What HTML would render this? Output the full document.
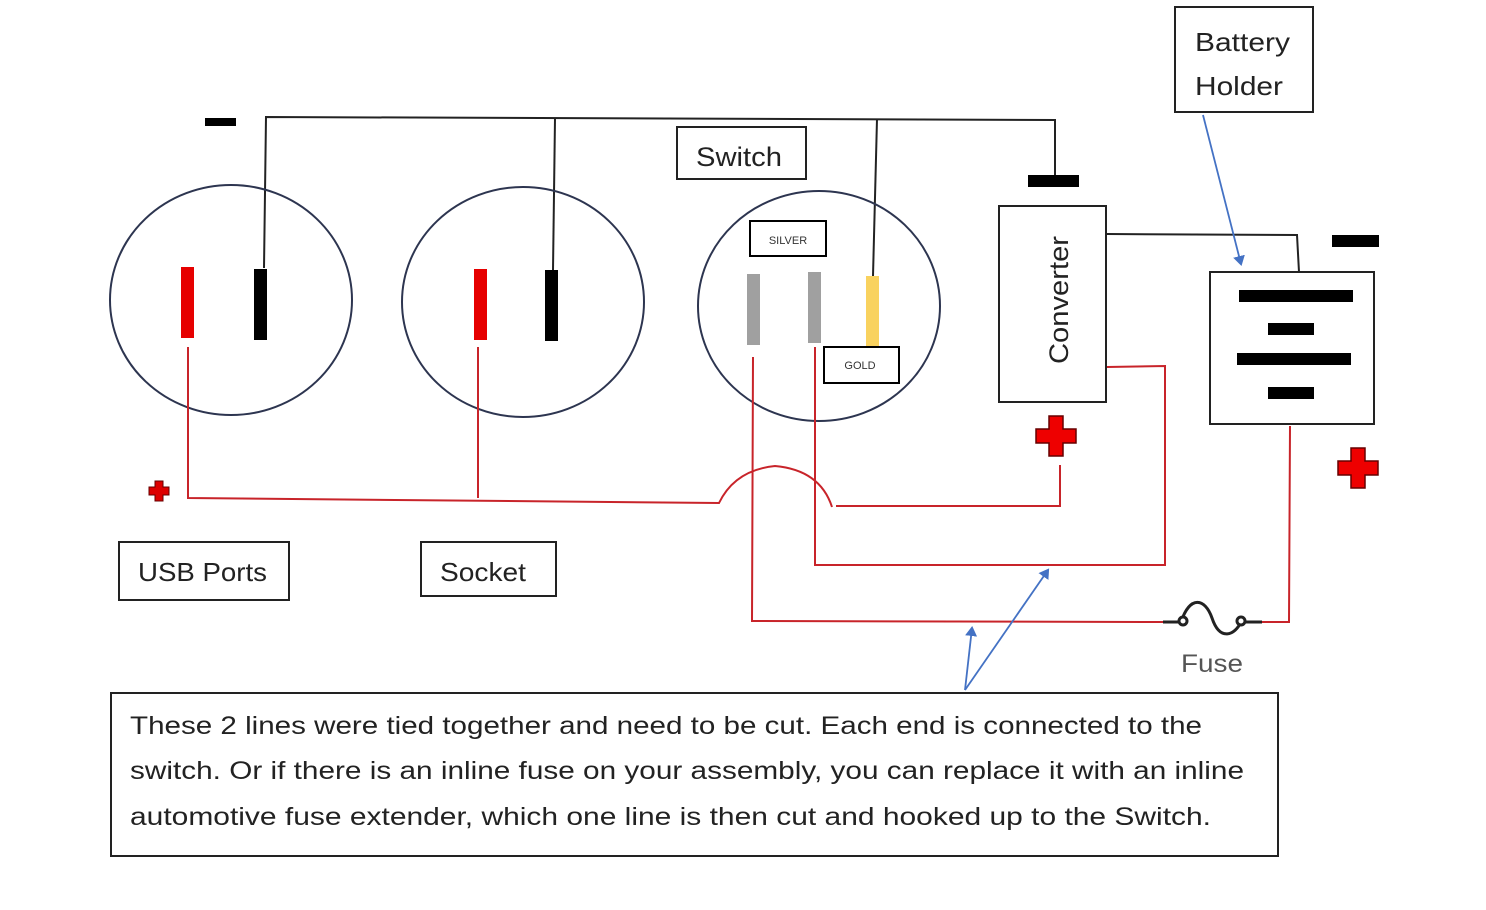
<!DOCTYPE html>
<html><head><style>
html,body{margin:0;padding:0;background:#fff;}
svg{display:block;font-family:"Liberation Sans",sans-serif;}
</style></head><body>
<svg width="1486" height="910" viewBox="0 0 1486 910" xmlns="http://www.w3.org/2000/svg">
<defs>
<marker id="ah" markerWidth="10" markerHeight="12" refX="8" refY="6" orient="auto" markerUnits="userSpaceOnUse"><path d="M0,0 L10,6 L0,12 z" fill="#4472c4"/></marker>
</defs>
<g stroke="#222" stroke-width="2" fill="none">
<path d="M264,268 L266,117 L1055,120 L1055,176"/>
<path d="M553,270 L555,118"/>
<path d="M873,276 L877,119"/>
<path d="M1107,234 L1297,235 L1299,272"/>
</g>
<rect x="205" y="118" width="31" height="8" fill="#000"/>
<rect x="1028" y="175" width="51" height="12" fill="#000"/>
<rect x="1332" y="235" width="47" height="12" fill="#000"/>
<g fill="none" stroke="#2d3550" stroke-width="2">
<ellipse cx="231" cy="300" rx="121" ry="115"/>
<ellipse cx="523" cy="302" rx="121" ry="115"/>
<ellipse cx="819" cy="306" rx="121" ry="115"/>
</g>
<rect x="181" y="267" width="13" height="71" fill="#e60000"/>
<rect x="254" y="269" width="13" height="71" fill="#000"/>
<rect x="474" y="269" width="13" height="71" fill="#e60000"/>
<rect x="545" y="270" width="13" height="71" fill="#000"/>
<rect x="747" y="274" width="13" height="71" fill="#a0a0a0"/>
<rect x="808" y="272" width="13" height="71" fill="#a0a0a0"/>
<rect x="866" y="276" width="13" height="70" fill="#f9d25f"/>
<rect x="750" y="221" width="76" height="35" fill="#fff" stroke="#000" stroke-width="2"/>
<text x="788" y="244" font-size="11" text-anchor="middle" fill="#333">SILVER</text>
<rect x="824" y="347" width="75" height="36" fill="#fff" stroke="#000" stroke-width="2"/>
<text x="860" y="369" font-size="11" text-anchor="middle" fill="#333">GOLD</text>
<g stroke="#c8242a" stroke-width="2" fill="none">
<path d="M188,347 L188,498 L719,503 Q735,470 775,466 Q820,470 832,507"/>
<path d="M478,347 L478,498"/>
<path d="M836,506 L1060,506 L1060,465"/>
<path d="M815,347 L815,565 L1165,565 L1165,366 L1107,367"/>
<path d="M753,357 L752,621 L1163,622"/>
<path d="M1262,622 L1289,622 L1290,426"/>
</g>
<g stroke="#222" stroke-width="3" fill="none">
<path d="M1163,622 L1181,622"/>
<path d="M1181,622 C1190,595 1205,598 1212,618 C1220,642 1235,635 1241,622"/>
<path d="M1241,622 L1262,622"/>
<circle cx="1183" cy="621" r="4" fill="#fff"/>
<circle cx="1241" cy="621" r="4" fill="#fff"/>
</g>
<text x="1212" y="672" font-size="25" text-anchor="middle" fill="#555" textLength="62" lengthAdjust="spacingAndGlyphs">Fuse</text>
<path d="M155,481 h8 v6 h6 v8 h-6 v6 h-8 v-6 h-6 v-8 h6 z" fill="#d00" stroke="#600" stroke-width="1"/>
<path d="M1049,416 h14 v13 h13 v14 h-13 v13 h-14 v-13 h-13 v-14 h13 z" fill="#e00" stroke="#600" stroke-width="1.5"/>
<path d="M1351,448 h14 v13 h13 v14 h-13 v13 h-14 v-13 h-13 v-14 h13 z" fill="#e00" stroke="#600" stroke-width="1.5"/>
<rect x="999" y="206" width="107" height="196" fill="#fff" stroke="#222" stroke-width="2"/>
<text transform="translate(1068,300) rotate(-90)" font-size="27" text-anchor="middle" fill="#222" textLength="128" lengthAdjust="spacingAndGlyphs">Converter</text>
<rect x="1210" y="272" width="164" height="152" fill="#fff" stroke="#222" stroke-width="2"/>
<rect x="1239" y="290" width="114" height="12" fill="#000"/>
<rect x="1268" y="323" width="46" height="12" fill="#000"/>
<rect x="1237" y="353" width="114" height="12" fill="#000"/>
<rect x="1268" y="387" width="46" height="12" fill="#000"/>
<rect x="1175" y="7" width="138" height="105" fill="#fff" stroke="#222" stroke-width="2"/>
<text x="1195" y="51" font-size="26" fill="#222" textLength="95" lengthAdjust="spacingAndGlyphs">Battery</text>
<text x="1195" y="95" font-size="26" fill="#222" textLength="88" lengthAdjust="spacingAndGlyphs">Holder</text>
<rect x="677" y="127" width="129" height="52" fill="#fff" stroke="#222" stroke-width="2"/>
<text x="696" y="166" font-size="27" fill="#222" textLength="86" lengthAdjust="spacingAndGlyphs">Switch</text>
<rect x="119" y="542" width="170" height="58" fill="#fff" stroke="#222" stroke-width="2"/>
<text x="138" y="581" font-size="26" fill="#222" textLength="129" lengthAdjust="spacingAndGlyphs">USB Ports</text>
<rect x="421" y="542" width="135" height="54" fill="#fff" stroke="#222" stroke-width="2"/>
<text x="440" y="581" font-size="26" fill="#222" textLength="86" lengthAdjust="spacingAndGlyphs">Socket</text>
<g stroke="#4472c4" stroke-width="1.8" fill="none" marker-end="url(#ah)">
<path d="M1203,115 L1241,264"/>
<path d="M965,690 L1048,570"/>
<path d="M965,690 L972,628"/>
</g>
<rect x="111" y="693" width="1167" height="163" fill="#fff" stroke="#222" stroke-width="2"/>
<g font-size="25" fill="#222">
<text x="130" y="734" textLength="1072" lengthAdjust="spacingAndGlyphs">These 2 lines were tied together and need to be cut. Each end is connected to the</text>
<text x="130" y="779" textLength="1114" lengthAdjust="spacingAndGlyphs">switch. Or if there is an inline fuse on your assembly, you can replace it with an inline</text>
<text x="130" y="825" textLength="1081" lengthAdjust="spacingAndGlyphs">automotive fuse extender, which one line is then cut and hooked up to the Switch.</text>
</g>
</svg>
</body></html>
